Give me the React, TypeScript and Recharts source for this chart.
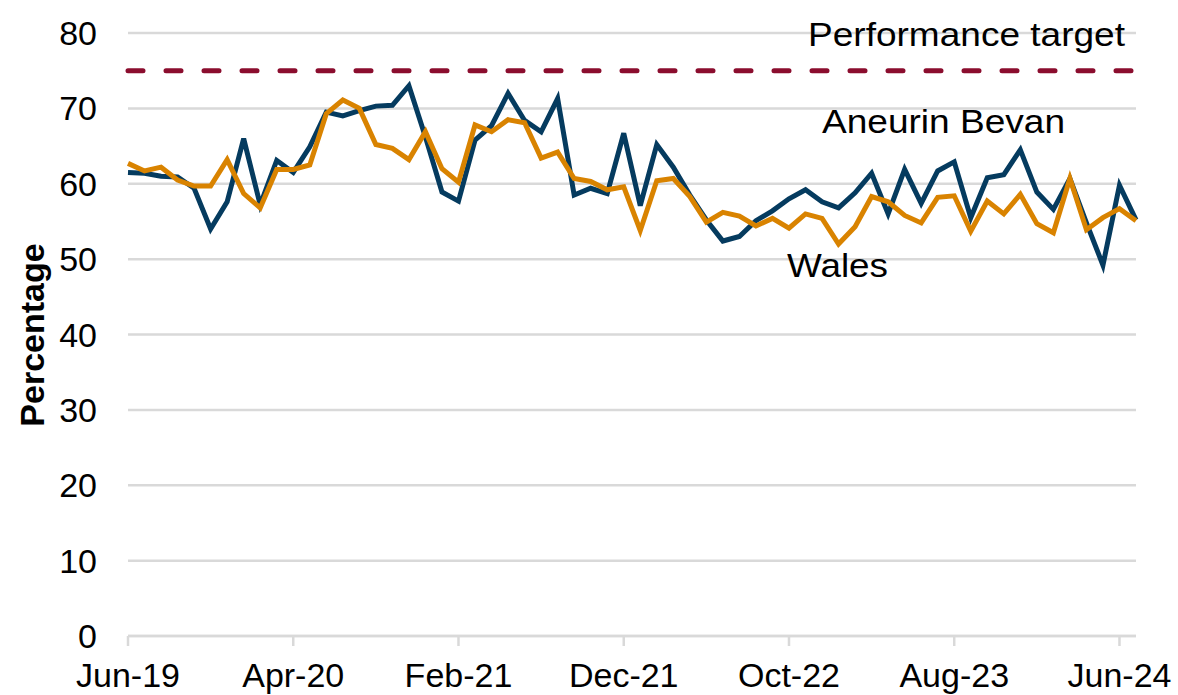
import { CartesianGrid, Line, LineChart, ReferenceLine, XAxis, YAxis } from "recharts";

const months = [
  "Jun-19", "Jul-19", "Aug-19", "Sep-19", "Oct-19", "Nov-19", "Dec-19",
  "Jan-20", "Feb-20", "Mar-20", "Apr-20", "May-20", "Jun-20", "Jul-20", "Aug-20", "Sep-20", "Oct-20", "Nov-20", "Dec-20",
  "Jan-21", "Feb-21", "Mar-21", "Apr-21", "May-21", "Jun-21", "Jul-21", "Aug-21", "Sep-21", "Oct-21", "Nov-21", "Dec-21",
  "Jan-22", "Feb-22", "Mar-22", "Apr-22", "May-22", "Jun-22", "Jul-22", "Aug-22", "Sep-22", "Oct-22", "Nov-22", "Dec-22",
  "Jan-23", "Feb-23", "Mar-23", "Apr-23", "May-23", "Jun-23", "Jul-23", "Aug-23", "Sep-23", "Oct-23", "Nov-23", "Dec-23",
  "Jan-24", "Feb-24", "Mar-24", "Apr-24", "May-24", "Jun-24", "Jul-24",
];

const aneurinBevan = [
  61.5, 61.4, 61.0, 60.9, 59.4, 54.0, 57.6, 66.0, 57.2, 63.1, 61.5, 64.9, 69.5, 69.0, 69.7, 70.3,
  70.4, 73.0, 66.2, 58.9, 57.7, 65.8, 67.7, 72.0, 68.4, 66.9, 71.3, 58.5, 59.4, 58.7, 66.7,
  57.1, 65.2, 62.2, 58.5, 55.2, 52.4, 53.0, 55.1, 56.4, 58.0, 59.2, 57.6, 56.8, 58.8, 61.4,
  56.0, 61.9, 57.4, 61.7, 62.9, 55.5, 60.8, 61.2, 64.5, 58.9, 56.6, 60.7, 54.8, 49.2, 59.8, 55.2,
];

const wales = [
  62.7, 61.7, 62.2, 60.5, 59.7, 59.7, 63.2, 58.7, 56.8, 61.9, 61.9, 62.5, 69.3, 71.1, 70.0, 65.2,
  64.7, 63.2, 66.9, 62.0, 60.2, 67.8, 66.9, 68.5, 68.1, 63.4, 64.2, 60.7, 60.3, 59.2, 59.6,
  53.8, 60.4, 60.7, 58.3, 54.9, 56.2, 55.7, 54.4, 55.4, 54.1, 56.0, 55.4, 52.0, 54.3, 58.3,
  57.6, 55.8, 54.8, 58.2, 58.4, 53.7, 57.7, 56.0, 58.6, 54.7, 53.5, 60.7, 53.9, 55.5, 56.7, 55.1,
];

const TARGET = 75;
const yTicks = [0, 10, 20, 30, 40, 50, 60, 70, 80];

const data = months.map((month, i) => ({
  month,
  aneurinBevan: aneurinBevan[i],
  wales: wales[i],
}));

const FONT = '"Liberation Sans", Arial, sans-serif';
const GRID = "#D9D9D9";

export default function App() {
  return (
    <div style={{ position: "absolute", left: 0, top: 0, width: 1178, height: 695, background: "#fff" }}>
      <LineChart
        width={1178}
        height={695}
        data={data}
        margin={{ top: 33, right: 42, left: 0, bottom: 0 }}
        style={{ fontFamily: FONT }}
      >
        <CartesianGrid stroke={GRID} strokeWidth={2.5} vertical={false} />
        <XAxis
          dataKey="month"
          interval={9}
          height={59}
          axisLine={{ stroke: GRID, strokeWidth: 2.5 }}
          tickLine={{ stroke: GRID, strokeWidth: 2.5 }}
          tickSize={10}
          tickMargin={17}
          tick={{ fontSize: 34, fill: "#000" }}
        />
        <YAxis
          domain={[0, 80]}
          ticks={yTicks}
          width={128}
          axisLine={false}
          tickLine={false}
          tickSize={0}
          tickMargin={31}
          tick={{ fontSize: 34, fill: "#000" }}
        />
        <ReferenceLine
          y={TARGET}
          stroke="#8B0D2E"
          strokeWidth={5}
          strokeDasharray="15 23"
          strokeLinecap="round"
        />
        <Line
          dataKey="aneurinBevan"
          name="Aneurin Bevan"
          type="linear"
          stroke="#053B5F"
          strokeWidth={5}
          dot={false}
          isAnimationActive={false}
        />
        <Line
          dataKey="wales"
          name="Wales"
          type="linear"
          stroke="#D98300"
          strokeWidth={5}
          dot={false}
          isAnimationActive={false}
        />
      </LineChart>
      <svg
        width={1178}
        height={695}
        style={{ position: "absolute", left: 0, top: 0, pointerEvents: "none", fontFamily: FONT }}
      >
        <text x={808} y={46} fontSize={34} textLength={317} lengthAdjust="spacingAndGlyphs" fill="#000">
          Performance target
        </text>
        <text x={822} y={133} fontSize={34} textLength={243} lengthAdjust="spacingAndGlyphs" fill="#000">
          Aneurin Bevan
        </text>
        <text x={787} y={277} fontSize={34} textLength={101} lengthAdjust="spacingAndGlyphs" fill="#000">
          Wales
        </text>
        <text
          transform="translate(44,335) rotate(-90)"
          fontSize={34}
          fontWeight="bold"
          textAnchor="middle"
          fill="#000"
        >
          Percentage
        </text>
      </svg>
    </div>
  );
}
